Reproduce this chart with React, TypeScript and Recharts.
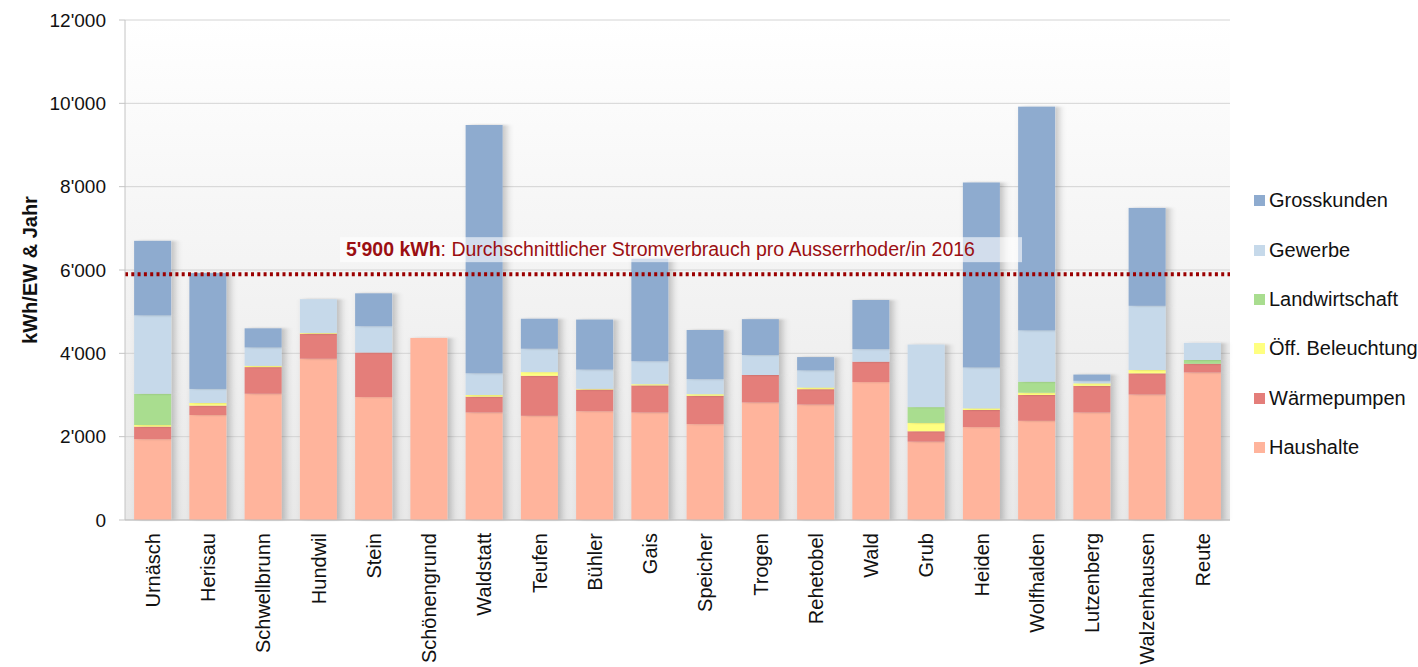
import React from 'react';
import { BarChart, Bar, XAxis, YAxis, CartesianGrid, ReferenceLine, Legend, Label } from 'recharts';

const categories = ['Urnäsch', 'Herisau', 'Schwellbrunn', 'Hundwil', 'Stein', 'Schönengrund', 'Waldstatt', 'Teufen', 'Bühler', 'Gais', 'Speicher', 'Trogen', 'Rehetobel', 'Wald', 'Grub', 'Heiden', 'Wolfhalden', 'Lutzenberg', 'Walzenhausen', 'Reute'];
const haushalte = [1940, 2520, 3030, 3870, 2950, 4370, 2580, 2500, 2610, 2580, 2300, 2820, 2770, 3310, 1880, 2230, 2380, 2580, 3010, 3540];
const waermepumpen = [300, 225, 640, 600, 1070, 0, 380, 960, 520, 650, 680, 660, 370, 490, 250, 410, 620, 640, 510, 210];
const beleuchtung = [40, 65, 30, 20, 0, 0, 40, 90, 20, 30, 40, 0, 40, 0, 200, 40, 56, 60, 80, 0];
const landwirtschaft = [750, 0, 0, 0, 0, 0, 0, 0, 0, 0, 0, 0, 0, 0, 380, 0, 264, 0, 0, 90];
const gewerbe = [1880, 335, 440, 810, 630, 0, 520, 560, 460, 550, 360, 480, 410, 300, 1500, 980, 1230, 60, 1540, 410];
const grosskunden = [1790, 2780, 460, 0, 790, 0, 5960, 720, 1200, 2460, 1180, 860, 320, 1180, 0, 4440, 5370, 150, 2350, 0];
const yTicks = [0, 2000, 4000, 6000, 8000, 10000, 12000];
const averageValue = 5900;
const averageBold = "5'900 kWh";
const averageText = ': Durchschnittlicher Stromverbrauch pro Ausserrhoder/in 2016';
const yAxisTitle = 'kWh/EW & Jahr';

const series = [
  { key: 'haushalte', name: 'Haushalte', color: '#FFB49C' },
  { key: 'waermepumpen', name: 'Wärmepumpen', color: '#E47E7A' },
  { key: 'beleuchtung', name: 'Öff. Beleuchtung', color: '#FFFF80' },
  { key: 'landwirtschaft', name: 'Landwirtschaft', color: '#A9DD8F' },
  { key: 'gewerbe', name: 'Gewerbe', color: '#C6D9EA' },
  { key: 'grosskunden', name: 'Grosskunden', color: '#8EABCF' },
];

const data = categories.map((name, i) => ({
  name,
  haushalte: haushalte[i],
  waermepumpen: waermepumpen[i],
  beleuchtung: beleuchtung[i],
  landwirtschaft: landwirtschaft[i],
  gewerbe: gewerbe[i],
  grosskunden: grosskunden[i],
}));

const FONT = '"Liberation Sans", Arial, sans-serif';
const fmt = (v: number) => String(v).replace(/\B(?=(\d{3})+(?!\d))/g, "'");

const XTick = (props: any) => {
  const { x, y, payload } = props;
  const ty = y + 13;
  return (
    <text x={x} y={ty} transform={`rotate(-90, ${x}, ${ty})`} textAnchor="end" dy="0.36em" fontSize={20} fill="#111" fontFamily={FONT}>
      {payload.value}
    </text>
  );
};

const YTitle = (props: any) => {
  const vb = props.viewBox || { x: 10, y: 20, width: 115, height: 500 };
  const cx = vb.x + 20;
  const cy = vb.y + vb.height / 2;
  return (
    <text x={cx} y={cy} transform={`rotate(-90, ${cx}, ${cy})`} textAnchor="middle" dy="0.36em" fontSize={20} fontWeight="bold" fill="#111" fontFamily={FONT}>
      {yAxisTitle}
    </text>
  );
};

const AvgLabel = (props: any) => {
  const vb = props.viewBox;
  if (!vb) return null;
  return (
    <g>
      <rect x={vb.x + 215} y={vb.y - 37} width={682} height={25} fill="#ffffff" fillOpacity={0.6} />
      <text x={vb.x + 221} y={vb.y - 18} fontSize={19.5} fill="#9B0F12" fontFamily={FONT}>
        <tspan fontWeight="bold">{averageBold}</tspan>
        <tspan>{averageText}</tspan>
      </text>
    </g>
  );
};

const LegendContent = () => (
  <div style={{ width: 166, fontFamily: FONT }}>
    {[...series].reverse().map((s) => (
      <div key={s.key} style={{ height: 49.4, display: 'flex', alignItems: 'center' }}>
        <span style={{ display: 'inline-block', width: 11, height: 11, background: s.color, marginLeft: 2, marginRight: 4 }} />
        <span style={{ fontSize: 20, color: '#111', whiteSpace: 'nowrap' }}>{s.name}</span>
      </div>
    ))}
  </div>
);

const ShadowRect = (props: any) => {
  const { x, y, width, height, fill } = props;
  if (!height || height <= 0) return null;
  return <rect x={x} y={y} width={width} height={height} fill={fill} filter="url(#barShadow)" />;
};

export default function App() {
  return (
    <div style={{ position: 'absolute', left: 0, top: 0, width: 1418, height: 667, background: '#fff' }}>
      <BarChart
        width={1418}
        height={667}
        data={data}
        margin={{ top: 20, right: 22, bottom: 7, left: 10 }}
        barCategoryGap="16.5%"
      >
        <defs>
          <linearGradient id="plotBg" x1="0" y1="0" x2="0" y2="1">
            <stop offset="0%" stopColor="#ffffff" />
            <stop offset="100%" stopColor="#e8e8e8" />
          </linearGradient>
          <filter id="barShadow" filterUnits="userSpaceOnUse" x="0" y="0" width="1418" height="667">
            <feDropShadow dx="4" dy="0" stdDeviation="3.5 1" floodColor="#000" floodOpacity="0.22" />
          </filter>
        </defs>
        <CartesianGrid vertical={false} stroke="#d4d4d4" fill="url(#plotBg)" />
        <XAxis
          dataKey="name"
          interval={0}
          height={140}
          tickLine={false}
          tickSize={0}
          tickMargin={0}
          axisLine={{ stroke: '#bdbdbd' }}
          tick={<XTick />}
        />
        <YAxis
          domain={[0, 12000]}
          ticks={yTicks}
          width={115}
          tickSize={6}
          tickMargin={13}
          tickFormatter={fmt}
          axisLine={{ stroke: '#c4c4c4' }}
          tickLine={{ stroke: '#c4c4c4' }}
          tick={{ fontSize: 19, fill: '#111', fontFamily: FONT }}
          interval={0}
        >
          <Label content={<YTitle />} />
        </YAxis>
        {series.map((s) => (
          <Bar key={s.key} dataKey={s.key} name={s.name} stackId="a" fill={s.color} shape={<ShadowRect />} isAnimationActive={false} />
        ))}
        <ReferenceLine y={averageValue} stroke="#9B0000" strokeWidth={4} strokeDasharray="3 3.3" label={<AvgLabel />} />
        <Legend
          layout="vertical"
          align="right"
          verticalAlign="top"
          content={<LegendContent />}
          wrapperStyle={{ position: 'absolute', left: 1252, right: 'auto', top: 176, width: 166 }}
        />
      </BarChart>
    </div>
  );
}
